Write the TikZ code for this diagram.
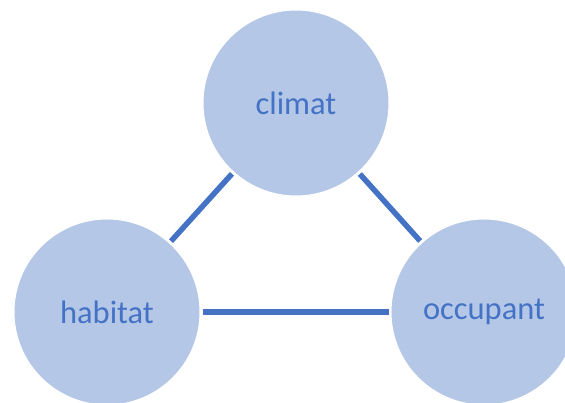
\documentclass[tikz,border=0pt]{standalone}
\usepackage{fontspec}
\setmainfont{Carlito}
\usepackage{tikz}
\definecolor{bleu}{HTML}{4472C4}
\definecolor{bleuclair}{HTML}{B4C7E7}
\tikzset{bulle/.style={circle, fill=bleuclair, draw=white, line width=3pt, minimum size=188pt, inner sep=0pt, text=bleu, font=\fontsize{32.5}{39}\selectfont},
lien/.style={draw=bleu, line width=5.5pt}}

\begin{document}
\begin{tikzpicture}[x=1pt,y=1pt]
\useasboundingbox (0,0) rectangle (565,402);
\clip (0,0) rectangle (565,402);
% circles
\node[bulle] (climat) at (296,299) {climat};
\node[bulle] (habitat) at (107,90) {habitat};
\node[bulle] (occupant) at (484,90) {occupant};

%links
\draw[lien] (climat) -- (habitat);
\draw[lien] (climat) -- (occupant);
\draw[lien] (habitat) -- (occupant);

\end{tikzpicture}
\end{document}
